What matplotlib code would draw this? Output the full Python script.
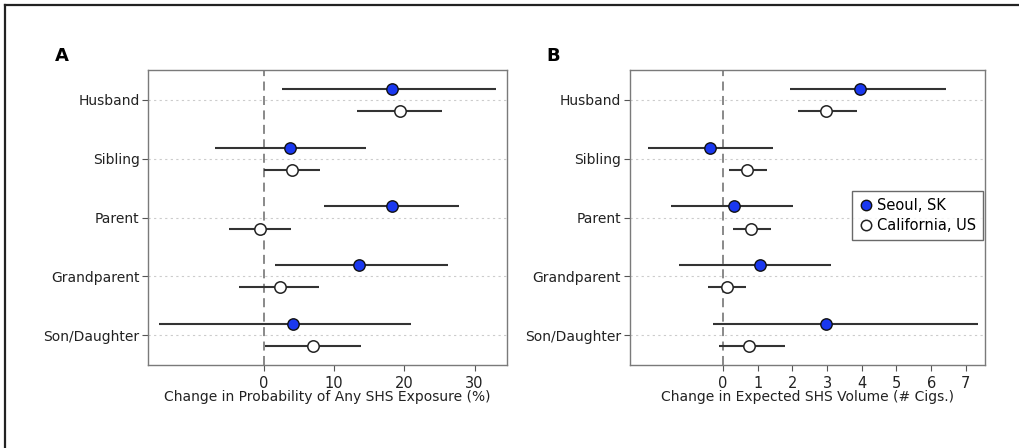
import matplotlib
matplotlib.use('Agg')
import matplotlib.pyplot as plt
from matplotlib.lines import Line2D
import numpy as np

# Categories, top to bottom
relations = ['Husband', 'Sibling', 'Parent', 'Grandparent', 'Son/Daughter']

# Panel A: change in probability of any SHS exposure (%)
a_seoul = [18.3, 3.7, 18.2, 13.5, 4.1]
a_seoul_lo = [2.6, -7.0, 8.5, 1.6, -14.9]
a_seoul_hi = [33.0, 14.6, 27.7, 26.2, 20.9]
a_cal = [19.3, 4.0, -0.6, 2.3, 7.0]
a_cal_lo = [13.2, 0.0, -5.0, -3.5, 0.2]
a_cal_hi = [25.3, 8.0, 3.9, 7.9, 13.8]

# Panel B: change in expected SHS volume (# cigs.)
b_seoul = [3.94, -0.38, 0.31, 1.06, 2.98]
b_seoul_lo = [1.92, -2.16, -1.49, -1.25, -0.29]
b_seoul_hi = [6.42, 1.44, 2.02, 3.12, 7.36]
b_cal = [2.98, 0.69, 0.82, 0.12, 0.75]
b_cal_lo = [2.16, 0.17, 0.29, -0.43, -0.10]
b_cal_hi = [3.85, 1.27, 1.38, 0.67, 1.80]

BLUE = '#1a38f0'
LINE = '#333333'
SPINE = '#7a7a7a'


def draw_panel(ax, seoul, s_lo, s_hi, cal, c_lo, c_hi, xlim, xticks, xlabel):
    ypos = np.arange(len(relations), 0, -1)
    off = 0.19
    for y in ypos:
        ax.axhline(y, color='#cccccc', lw=0.8, ls=(0, (2, 3)), zorder=0)
    ax.axvline(0, color='#808080', lw=1.3, ls=(0, (5, 3)), zorder=1)
    ax.hlines(ypos + off, s_lo, s_hi, color=LINE, lw=1.5, zorder=2)
    ax.hlines(ypos - off, c_lo, c_hi, color=LINE, lw=1.5, zorder=2)
    ax.plot(seoul, ypos + off, 'o', ms=8.2, mfc=BLUE, mec='#111111', mew=1.0, zorder=3)
    ax.plot(cal, ypos - off, 'o', ms=8.2, mfc='white', mec='#222222', mew=1.1, zorder=3)
    ax.set_xlim(*xlim)
    ax.set_ylim(0.49, 5.51)
    ax.set_yticks(ypos)
    ax.set_yticklabels(relations, fontsize=10, color='#222222')
    ax.set_xticks(xticks)
    ax.set_xticklabels([str(t) for t in xticks], fontsize=10.5, color='#222222')
    ax.set_xlabel(xlabel, fontsize=10, color='#222222', labelpad=-1)
    ax.tick_params(axis='x', direction='out', length=4, width=0.8,
                   color='#555555', pad=4)
    ax.tick_params(axis='y', direction='out', length=4, width=0.8,
                   color='#555555', pad=2)
    for sp in ax.spines.values():
        sp.set_color(SPINE)
        sp.set_linewidth(1.0)


fig = plt.figure(figsize=(10.2, 4.48), dpi=100)

ax_a = fig.add_axes([148 / 1020, 1 - 365 / 448, 359 / 1020, 295 / 448])
draw_panel(ax_a, a_seoul, a_seoul_lo, a_seoul_hi, a_cal, a_cal_lo, a_cal_hi,
           (-16.5, 34.6), [0, 10, 20, 30],
           'Change in Probability of Any SHS Exposure (%)')

ax_b = fig.add_axes([629.5 / 1020, 1 - 365 / 448, 355.5 / 1020, 295 / 448])
draw_panel(ax_b, b_seoul, b_seoul_lo, b_seoul_hi, b_cal, b_cal_lo, b_cal_hi,
           (-2.69, 7.55), [0, 1, 2, 3, 4, 5, 6, 7],
           'Change in Expected SHS Volume (# Cigs.)')

handles = [
    Line2D([], [], ls='none', marker='o', ms=7.5, mfc=BLUE, mec='#111111', mew=1.0),
    Line2D([], [], ls='none', marker='o', ms=7.5, mfc='white', mec='#222222', mew=1.1),
]
leg = ax_b.legend(handles, ['Seoul, SK', 'California, US'], loc='center right',
                  bbox_to_anchor=(0.993, 0.507), fontsize=10.5, frameon=True,
                  fancybox=False, handletextpad=0.25, handlelength=1.0,
                  borderpad=0.45, labelspacing=0.35, borderaxespad=0)
leg.get_frame().set_edgecolor('#444444')
leg.get_frame().set_linewidth(1.0)

# panel letters
fig.text(62 / 1020, 1 - 56 / 448, 'A', fontsize=13, fontweight='bold',
         ha='center', va='center')
fig.text(553 / 1020, 1 - 56 / 448, 'B', fontsize=13, fontweight='bold',
         ha='center', va='center')

# cropped outer frame (top and left edges only)
fig.add_artist(Line2D([5 / 1020, 5 / 1020], [0, 1 - 5 / 448], color='#222222', lw=1.6))
fig.add_artist(Line2D([5 / 1020, 1], [1 - 5 / 448, 1 - 5 / 448], color='#222222', lw=1.6))

plt.savefig('out.png', dpi=100)
plt.close()
